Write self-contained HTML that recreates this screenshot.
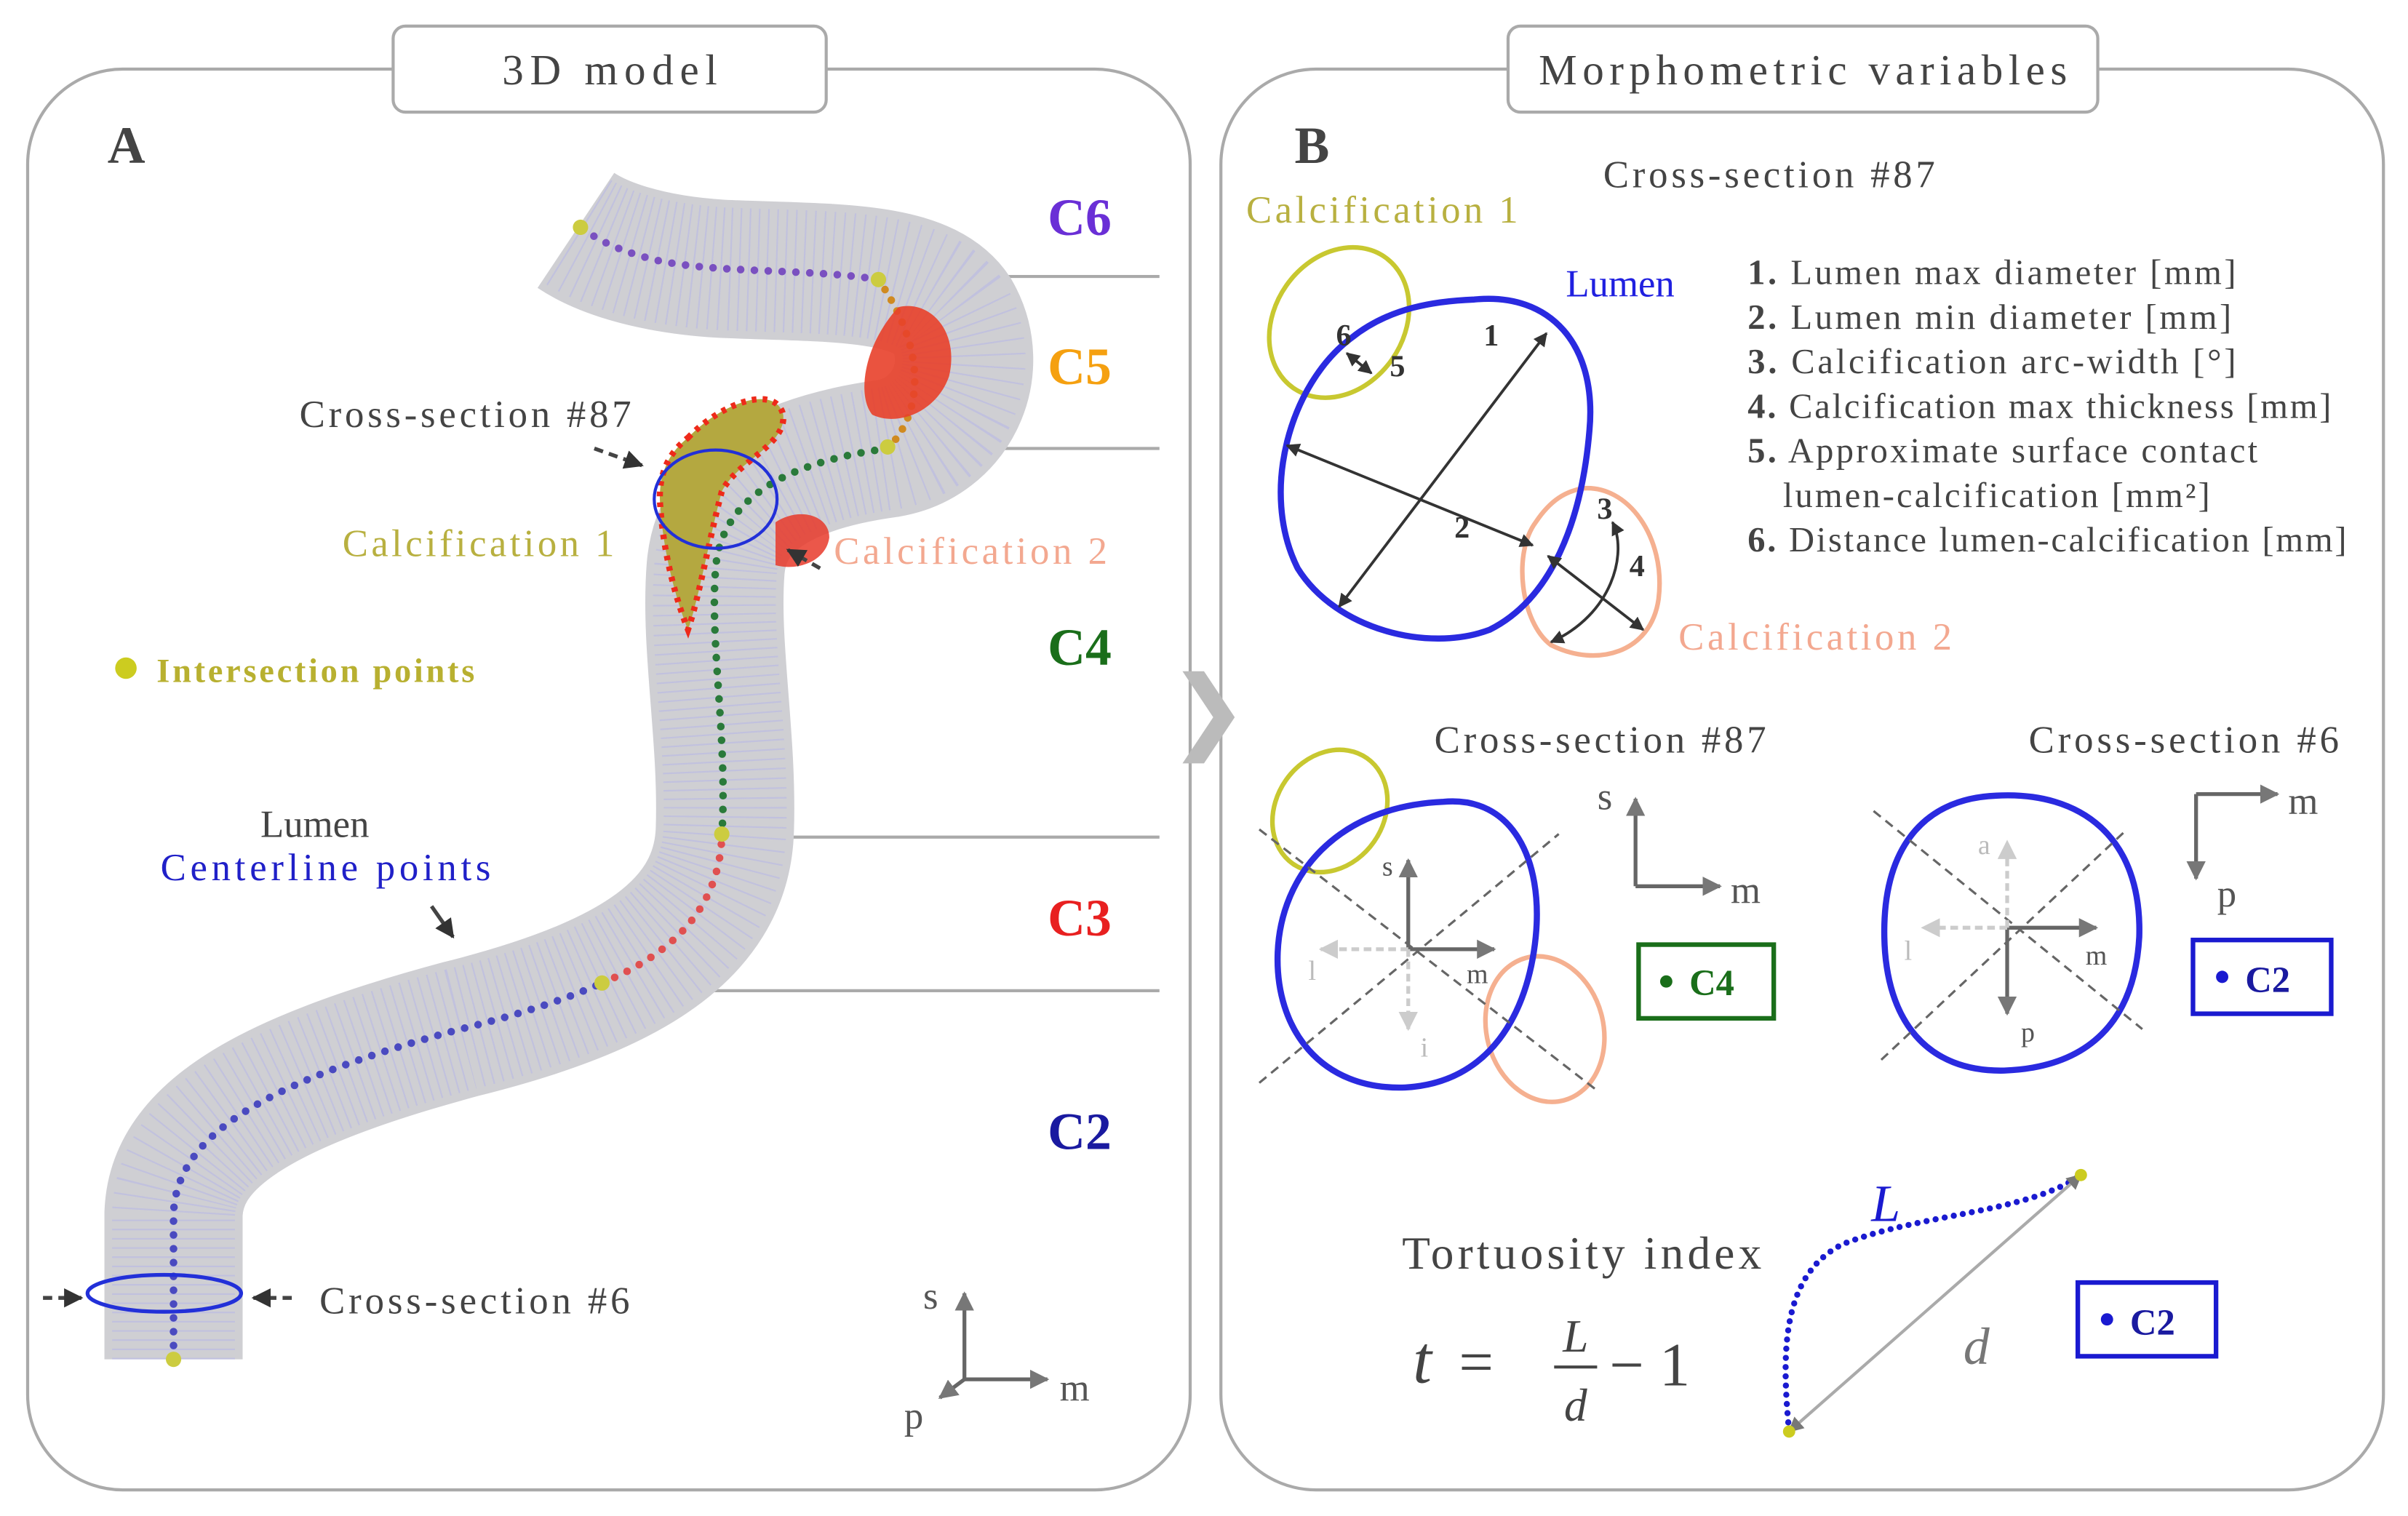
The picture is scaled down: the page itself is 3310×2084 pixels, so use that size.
<!DOCTYPE html>
<html><head><meta charset="utf-8"><style>
html,body{margin:0;padding:0;background:#fff}
svg{display:block}
text{font-family:"Liberation Serif",serif}
</style></head><body>
<svg width="3310" height="2084" viewBox="0 0 1568 987" preserveAspectRatio="none" xmlns="http://www.w3.org/2000/svg">
<defs>
<marker id="ah" viewBox="0 0 10 10" refX="9" refY="5" markerWidth="5" markerHeight="5" orient="auto-start-reverse"><path d="M0,0L10,5L0,10z" fill="#333"/></marker>
<marker id="ag" viewBox="0 0 10 10" refX="9" refY="5" markerWidth="5" markerHeight="5" orient="auto-start-reverse"><path d="M0,0L10,5L0,10z" fill="#777"/></marker>
<marker id="al" viewBox="0 0 10 10" refX="9" refY="5" markerWidth="5" markerHeight="5" orient="auto-start-reverse"><path d="M0,0L10,5L0,10z" fill="#ccc"/></marker>
</defs>
<!-- Panels -->
<rect x="18" y="45" width="757" height="925" rx="62" fill="none" stroke="#aaa" stroke-width="2"/>
<rect x="795" y="45" width="757" height="925" rx="62" fill="none" stroke="#aaa" stroke-width="2"/>
<rect x="256" y="17" width="282" height="56" rx="8" fill="#fff" stroke="#aaa" stroke-width="2"/>
<text x="397" y="55" font-size="28" text-anchor="middle" fill="#444" textLength="140">3D model</text>
<rect x="982" y="17" width="384" height="56" rx="8" fill="#fff" stroke="#aaa" stroke-width="2"/>
<text x="1174" y="55" font-size="28" text-anchor="middle" fill="#444" textLength="344">Morphometric variables</text>
<text x="70" y="106" font-size="34" font-weight="bold" fill="#444">A</text>
<text x="843" y="106" font-size="34" font-weight="bold" fill="#444">B</text>
<path d="M770,437 L790,467 L770,497 L784,497 L804,467 L784,437z" fill="#bbb"/>

<!-- segment lines -->
<g stroke="#aaa" stroke-width="2">
<line x1="580" y1="180" x2="755" y2="180"/><line x1="580" y1="292" x2="755" y2="292"/>
<line x1="470" y1="545" x2="755" y2="545"/><line x1="395" y1="645" x2="755" y2="645"/>
</g>
<!-- tube -->
<path d="M113,885 L113,790 C115,740 170,705 300,670 C400,645 470,610 472,540 C474,480 462,420 466,370 C470,320 520,300 578,292 C620,285 640,240 620,205 C600,175 540,178 470,175 C420,172 390,160 375,150" fill="none" stroke="#cfcfd3" stroke-width="90"/>
<path d="M113,885 L113,790 C115,740 170,705 300,670 C400,645 470,610 472,540 C474,480 462,420 466,370 C470,320 520,300 578,292 C620,285 640,240 620,205 C600,175 540,178 470,175 C420,172 390,160 375,150" fill="none" stroke="#b8b8e6" stroke-width="80" stroke-dasharray="1 5" opacity="0.6"/>
<!-- centerline dots -->
<path d="M113,885 L113,790 C115,740 170,705 300,670 C340,660 370,650 392,640" fill="none" stroke="#4a4ac0" stroke-width="5" stroke-linecap="round" stroke-dasharray="0 9"/>
<path d="M392,640 C440,620 468,590 470,545" fill="none" stroke="#e05050" stroke-width="5" stroke-linecap="round" stroke-dasharray="0 9"/>
<path d="M470,545 C474,480 462,420 466,370 C470,320 520,300 578,292" fill="none" stroke="#2a7a3a" stroke-width="5" stroke-linecap="round" stroke-dasharray="0 9"/>
<path d="M578,292 C600,270 605,230 572,182" fill="none" stroke="#d08a20" stroke-width="5" stroke-linecap="round" stroke-dasharray="0 8"/>
<path d="M572,182 C530,175 470,178 430,170 C400,163 388,155 378,148" fill="none" stroke="#7a50c0" stroke-width="5" stroke-linecap="round" stroke-dasharray="0 9"/>
<g fill="#cccc40"><circle cx="113" cy="885" r="5"/><circle cx="392" cy="640" r="5"/><circle cx="470" cy="543" r="5"/><circle cx="578" cy="291" r="5"/><circle cx="572" cy="182" r="5"/><circle cx="378" cy="148" r="5"/></g>
<!-- calcifications -->
<path d="M448,285 C470,262 505,250 510,270 C512,290 480,300 470,320 C462,350 455,390 448,410 C440,390 432,360 430,330 C428,310 435,295 448,285z" fill="#b4a840" stroke="#ee2a1a" stroke-width="4" stroke-dasharray="3 4"/>
<path d="M585,200 C605,195 625,215 618,245 C610,268 585,278 568,270 C558,258 562,225 585,200z" fill="#e8402a" opacity="0.9"/>
<path d="M505,340 C520,330 540,335 540,350 C538,365 520,372 505,368z" fill="#e83a2a" opacity="0.85"/>
<ellipse cx="466" cy="325" rx="40" ry="32" fill="none" stroke="#2230d8" stroke-width="2"/>
<ellipse cx="107" cy="842" rx="50" ry="12" fill="none" stroke="#2230d8" stroke-width="2.5"/>
<!-- arrows A -->
<g stroke="#444" stroke-width="2.5" stroke-dasharray="6 4" fill="none">
<line x1="387" y1="292" x2="418" y2="303" marker-end="url(#ah)"/>
<line x1="534" y1="370" x2="513" y2="358" marker-end="url(#ah)"/>
<line x1="28" y1="845" x2="53" y2="845" marker-end="url(#ah)"/>
<line x1="190" y1="845" x2="165" y2="845" marker-end="url(#ah)"/>
</g>
<line x1="281" y1="590" x2="295" y2="610" stroke="#444" stroke-width="2.5" marker-end="url(#ah)"/>
<!-- labels A -->
<text x="703" y="153" font-size="34" font-weight="bold" fill="#6a2fd6" text-anchor="middle">C6</text>
<text x="703" y="250" font-size="34" font-weight="bold" fill="#f5a010" text-anchor="middle">C5</text>
<text x="703" y="433" font-size="34" font-weight="bold" fill="#1a6e1a" text-anchor="middle">C4</text>
<text x="703" y="609" font-size="34" font-weight="bold" fill="#e82020" text-anchor="middle">C3</text>
<text x="703" y="748" font-size="34" font-weight="bold" fill="#1a1aa0" text-anchor="middle">C2</text>
<text x="195" y="278" font-size="25" fill="#444" textLength="216">Cross-section #87</text>
<text x="223" y="362" font-size="25" fill="#b8b040" textLength="177">Calcification 1</text>
<text x="543" y="367" font-size="25" fill="#f3a890" textLength="178">Calcification 2</text>
<circle cx="82" cy="435" r="7" fill="#cccc20"/>
<text x="102" y="444" font-size="22" font-weight="bold" fill="#b8b030" textLength="207">Intersection points</text>
<text x="205" y="545" font-size="25" fill="#444" text-anchor="middle">Lumen</text>
<text x="212" y="573" font-size="25" fill="#2020c8" text-anchor="middle" textLength="215">Centerline points</text>
<text x="208" y="855" font-size="25" fill="#444" textLength="202">Cross-section #6</text>
<g stroke="#666" stroke-width="2.5" fill="none">
<line x1="628" y1="898" x2="628" y2="842" marker-end="url(#ag)"/>
<line x1="628" y1="898" x2="682" y2="898" marker-end="url(#ag)"/>
<line x1="628" y1="898" x2="612" y2="910" marker-end="url(#ag)"/>
</g>
<text x="606" y="852" font-size="25" fill="#555" text-anchor="middle">s</text>
<text x="690" y="912" font-size="25" fill="#555">m</text>
<text x="595" y="930" font-size="25" fill="#555" text-anchor="middle">p</text>

<!-- Panel B top -->
<text x="1152" y="122" font-size="25" fill="#444" text-anchor="middle" textLength="216">Cross-section #87</text>
<text x="900" y="145" font-size="25" fill="#b8b040" text-anchor="middle" textLength="177">Calcification 1</text>
<text x="1055" y="193" font-size="25" fill="#2020e0" text-anchor="middle">Lumen</text>
<text x="1182" y="423" font-size="25" fill="#f3a890" text-anchor="middle" textLength="178">Calcification 2</text>
<ellipse cx="872" cy="210" rx="42" ry="52" transform="rotate(35 872 210)" fill="none" stroke="#c8c830" stroke-width="3"/>
<path d="M1030,318 C1060,315 1085,350 1080,390 C1075,425 1040,435 1010,420 C990,405 985,360 1000,340 C1010,325 1020,320 1030,318z" fill="none" stroke="#f5b090" stroke-width="3"/>
<path d="M960,195 C1010,190 1040,225 1035,280 C1030,340 1010,390 970,410 C930,425 870,410 845,370 C820,320 840,250 880,220 C905,200 935,196 960,195z" fill="none" stroke="#2a2ae0" stroke-width="4"/>
<g stroke="#333" stroke-width="1.8" fill="none">
<line x1="1007" y1="217" x2="872" y2="395" marker-start="url(#ah)" marker-end="url(#ah)"/>
<line x1="838" y1="290" x2="998" y2="355" marker-start="url(#ah)" marker-end="url(#ah)"/>
<line x1="1008" y1="362" x2="1070" y2="410" marker-start="url(#ah)" marker-end="url(#ah)"/>
<path d="M1050,340 C1060,360 1050,400 1010,418" marker-start="url(#ah)" marker-end="url(#ah)"/>
<line x1="877" y1="230" x2="893" y2="243" marker-start="url(#ah)" marker-end="url(#ah)"/>
</g>
<g font-size="20" font-weight="bold" fill="#333">
<text x="966" y="225">1</text><text x="947" y="350">2</text><text x="1040" y="338">3</text><text x="1061" y="375">4</text><text x="905" y="245">5</text><text x="870" y="225">6</text>
</g>
<g font-size="23" fill="#444">
<text x="1138" y="185" textLength="318"><tspan font-weight="bold">1.</tspan> Lumen max diameter [mm]</text>
<text x="1138" y="214" textLength="315"><tspan font-weight="bold">2.</tspan> Lumen min diameter [mm]</text>
<text x="1138" y="243" textLength="318"><tspan font-weight="bold">3.</tspan> Calcification arc-width [°]</text>
<text x="1138" y="272" textLength="380"><tspan font-weight="bold">4.</tspan> Calcification max thickness [mm]</text>
<text x="1138" y="301" textLength="332"><tspan font-weight="bold">5.</tspan> Approximate surface contact</text>
<text x="1161" y="330" textLength="278">lumen-calcification [mm²]</text>
<text x="1138" y="359" textLength="390"><tspan font-weight="bold">6.</tspan> Distance lumen-calcification [mm]</text>
</g>

<!-- Panel B middle left -->
<text x="1042" y="490" font-size="25" fill="#444" text-anchor="middle" textLength="216">Cross-section #87</text>
<ellipse cx="866" cy="528" rx="35" ry="42" transform="rotate(35 866 528)" fill="none" stroke="#c8c830" stroke-width="3"/>
<ellipse cx="1006" cy="670" rx="38" ry="48" transform="rotate(-15 1006 670)" fill="none" stroke="#f5b090" stroke-width="3"/>
<path d="M940,522 C985,518 1005,560 1000,610 C995,660 970,705 915,708 C860,710 830,670 832,620 C834,570 870,525 940,522z" fill="none" stroke="#2a2ae0" stroke-width="4"/>
<g stroke="#666" stroke-width="1.5" stroke-dasharray="6 4"><line x1="820" y1="540" x2="1040" y2="710"/><line x1="820" y1="705" x2="1015" y2="543"/></g>
<g stroke="#666" stroke-width="2.5"><line x1="917" y1="618" x2="917" y2="560" marker-end="url(#ag)"/><line x1="917" y1="618" x2="973" y2="618" marker-end="url(#ag)"/></g>
<g stroke="#ccc" stroke-width="2.5" stroke-dasharray="5 3"><line x1="917" y1="618" x2="860" y2="618" marker-end="url(#al)"/><line x1="917" y1="618" x2="917" y2="670" marker-end="url(#al)"/></g>
<text x="900" y="570" font-size="18" fill="#555">s</text><text x="955" y="640" font-size="18" fill="#555">m</text>
<text x="852" y="638" font-size="18" fill="#bbb">l</text><text x="925" y="688" font-size="18" fill="#bbb">i</text>
<g stroke="#666" stroke-width="2.5"><line x1="1065" y1="577" x2="1065" y2="520" marker-end="url(#ag)"/><line x1="1065" y1="577" x2="1120" y2="577" marker-end="url(#ag)"/></g>
<text x="1045" y="527" font-size="25" fill="#555" text-anchor="middle">s</text><text x="1127" y="588" font-size="25" fill="#555">m</text>
<rect x="1067" y="615" width="88" height="48" fill="#fff" stroke="#1a6e1a" stroke-width="3"/>
<circle cx="1085" cy="639" r="4" fill="#1a6e1a"/><text x="1100" y="648" font-size="24" font-weight="bold" fill="#1a6e1a">C4</text>

<!-- Panel B middle right -->
<text x="1422" y="490" font-size="25" fill="#444" text-anchor="middle" textLength="202">Cross-section #6</text>
<path d="M1300,518 C1355,515 1395,545 1393,610 C1390,665 1360,695 1305,697 C1255,698 1228,665 1227,610 C1226,555 1250,520 1300,518z" fill="none" stroke="#2a2ae0" stroke-width="4"/>
<g stroke="#666" stroke-width="1.5" stroke-dasharray="6 4"><line x1="1220" y1="528" x2="1395" y2="670"/><line x1="1225" y1="690" x2="1385" y2="540"/></g>
<g stroke="#666" stroke-width="2.5"><line x1="1307" y1="604" x2="1365" y2="604" marker-end="url(#ag)"/><line x1="1307" y1="604" x2="1307" y2="660" marker-end="url(#ag)"/></g>
<g stroke="#ccc" stroke-width="2.5" stroke-dasharray="5 3"><line x1="1307" y1="604" x2="1307" y2="548" marker-end="url(#al)"/><line x1="1307" y1="604" x2="1252" y2="604" marker-end="url(#al)"/></g>
<text x="1358" y="628" font-size="18" fill="#555">m</text><text x="1316" y="678" font-size="18" fill="#555">p</text>
<text x="1288" y="556" font-size="18" fill="#bbb">a</text><text x="1240" y="625" font-size="18" fill="#bbb">l</text>
<g stroke="#666" stroke-width="2.5"><line x1="1430" y1="517" x2="1483" y2="517" marker-end="url(#ag)"/><line x1="1430" y1="517" x2="1430" y2="572" marker-end="url(#ag)"/></g>
<text x="1490" y="530" font-size="25" fill="#555">m</text><text x="1450" y="590" font-size="25" fill="#555" text-anchor="middle">p</text>
<rect x="1428" y="612" width="90" height="48" fill="#fff" stroke="#1a1ad0" stroke-width="3"/>
<circle cx="1447" cy="636" r="4" fill="#1a1ad0"/><text x="1462" y="646" font-size="24" font-weight="bold" fill="#1a1aa0">C2</text>

<!-- Tortuosity -->
<text x="1030" y="826" font-size="30" fill="#444" text-anchor="middle" textLength="234">Tortuosity index</text>
<text x="920" y="900" font-size="44" font-style="italic" fill="#444">t</text>
<text x="950" y="900" font-size="40" fill="#444">=</text>
<text x="1026" y="880" font-size="30" font-style="italic" fill="#444" text-anchor="middle">L</text>
<line x1="1012" y1="890" x2="1040" y2="890" stroke="#444" stroke-width="2"/>
<text x="1026" y="925" font-size="30" font-style="italic" fill="#444" text-anchor="middle">d</text>
<text x="1048" y="902" font-size="40" fill="#444">− 1</text>
<path d="M1165,932 C1160,880 1160,830 1200,810 C1250,790 1320,790 1355,765" fill="none" stroke="#1a1ad0" stroke-width="4" stroke-linecap="round" stroke-dasharray="0 6"/>
<line x1="1165" y1="932" x2="1355" y2="765" stroke="#aaa" stroke-width="2" marker-start="url(#ag)" marker-end="url(#ag)"/>
<circle cx="1165" cy="932" r="4" fill="#cccc20"/><circle cx="1355" cy="765" r="4" fill="#cccc20"/>
<text x="1228" y="795" font-size="34" font-style="italic" fill="#1a1ad0" text-anchor="middle">L</text>
<text x="1287" y="888" font-size="34" font-style="italic" fill="#777" text-anchor="middle">d</text>
<rect x="1353" y="835" width="90" height="48" fill="#fff" stroke="#1a1ad0" stroke-width="3"/>
<circle cx="1372" cy="859" r="4" fill="#1a1ad0"/><text x="1387" y="869" font-size="24" font-weight="bold" fill="#1a1aa0">C2</text>
</svg>
</body></html>
